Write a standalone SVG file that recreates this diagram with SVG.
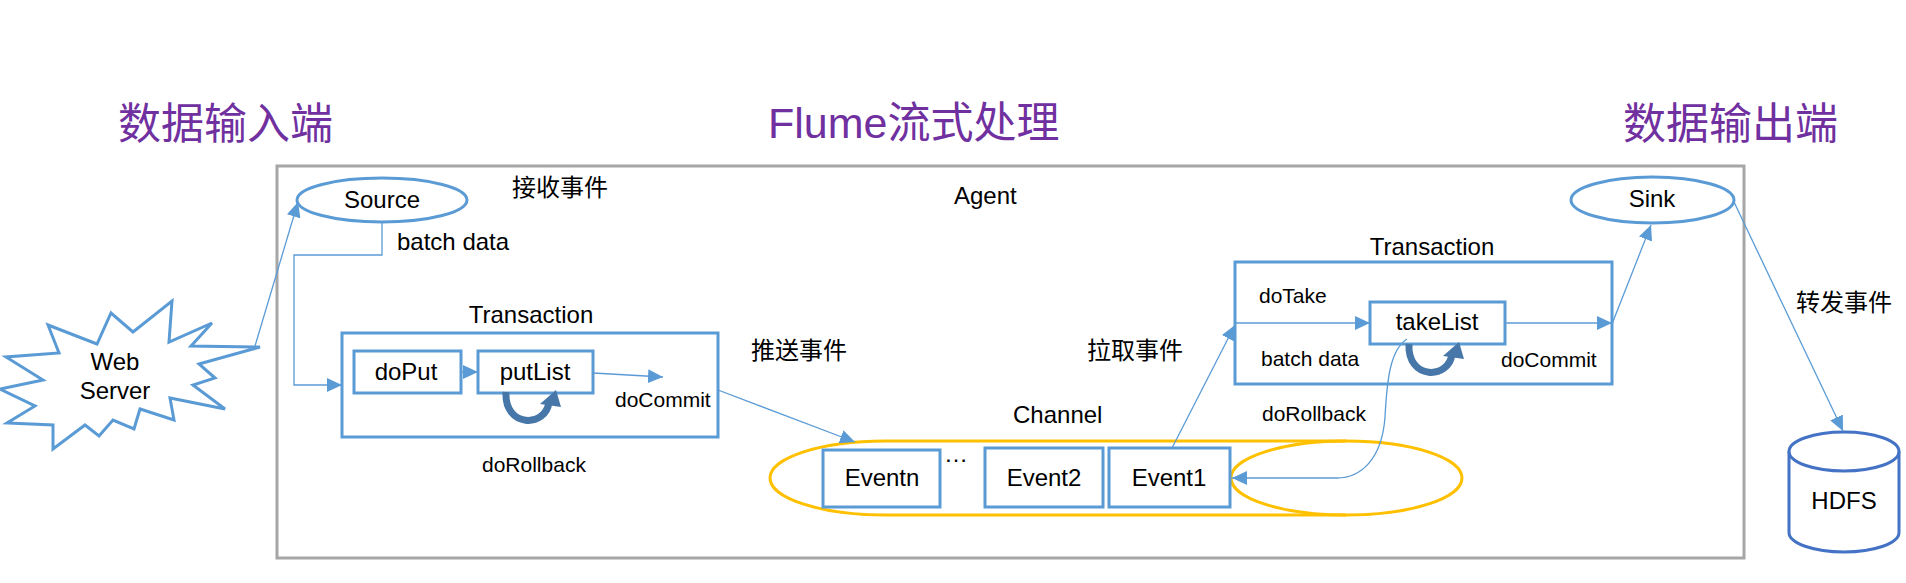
<svg xmlns="http://www.w3.org/2000/svg" width="1906" height="583" viewBox="0 0 1906 583">
<style>
.box{fill:#fff;stroke:#5b9bd5;stroke-width:3}
.conn{fill:none;stroke:#5b9bd5;stroke-width:1.3}
.can{fill:none;stroke:#ffc000;stroke-width:3}
.loop{fill:none;stroke:#4677a8;stroke-width:7}
.t{font-family:"Liberation Sans","Noto Sans CJK SC",sans-serif;font-size:24px;fill:#000}
.s{font-family:"Liberation Sans","Noto Sans CJK SC",sans-serif;font-size:21px;fill:#000}
.title{font-family:"Liberation Sans","Noto Sans CJK SC",sans-serif;font-size:43px;fill:#7030a0}
.m{text-anchor:middle}
</style>
<defs>
<marker id="arr" viewBox="0 0 15 14" refX="15" refY="7" markerWidth="15" markerHeight="14" markerUnits="userSpaceOnUse" orient="auto">
<path d="M0,0 L15,7 L0,14 Z" fill="#5b9bd5"/>
</marker>
<g id="loopArrow">
<path class="loop" d="M506,392 C504,428 546,428 549,402"/>
<polygon points="540,404 556,390 561,407" fill="#4677a8"/>
</g>
</defs>
<rect width="1906" height="583" fill="#fff"/>

<g id="titles">
<text class="title" x="118" y="139">数据输入端</text>
<text class="title" x="768" y="138">Flume流式处理</text>
<text class="title" x="1623" y="139">数据输出端</text>
</g>

<g id="agent">
<rect x="277" y="166" width="1467" height="392" fill="none" stroke="#a6a6a6" stroke-width="3"/>
<text class="t" x="954" y="204">Agent</text>
</g>

<g id="webserver">
<polygon class="box" points="172,301 169,342 212,323 191,346 260,347 199,364 215,378 193,385 225,409 170,398 174,420 140,409 134,429 113,420 99,436 85,425 53,449 53,425 7,423 35,406 0,389 43,380 6,357 59,353 48,325 97,344 111,313 133,332"/>
<text class="t m" x="115" y="370">Web</text>
<text class="t m" x="115" y="399">Server</text>
</g>

<g id="source">
<ellipse class="box" cx="382" cy="200" rx="85" ry="22"/>
<text class="t m" x="382" y="208">Source</text>
</g>

<g id="transaction-put">
<rect class="box" x="342" y="333" width="376" height="104"/>
<text class="t m" x="531" y="323">Transaction</text>
</g>
<g id="doPut">
<rect class="box" x="354" y="351" width="107" height="42"/>
<text class="t m" x="406" y="380">doPut</text>
</g>
<g id="putList">
<rect class="box" x="478" y="351" width="115" height="42"/>
<text class="t m" x="535" y="380">putList</text>
<use href="#loopArrow"/>
</g>

<g id="channel">
<path class="can" d="M1346,441 L885,441 A115,37 0 0 0 885,515 L1346,515"/>
<ellipse class="can" cx="1346.5" cy="478" rx="115.5" ry="37"/>
<text class="t" x="1013" y="423">Channel</text>
</g>
<g id="eventn">
<rect class="box" x="823" y="450" width="117" height="57"/>
<text class="t m" x="882" y="486">Eventn</text>
</g>
<text class="t" x="944" y="462">…</text>
<g id="event2">
<rect class="box" x="985" y="448" width="118" height="59"/>
<text class="t m" x="1044" y="486">Event2</text>
</g>
<g id="event1">
<rect class="box" x="1109" y="448" width="121" height="59"/>
<text class="t m" x="1169" y="486">Event1</text>
</g>

<g id="transaction-take">
<rect class="box" x="1235" y="262" width="377" height="122"/>
<text class="t m" x="1432" y="255">Transaction</text>
</g>
<g id="takeList">
<rect class="box" x="1370" y="302" width="135" height="42"/>
<text class="t m" x="1437" y="330">takeList</text>
<use href="#loopArrow" transform="translate(903,-48)"/>
</g>

<g id="sink">
<ellipse class="box" cx="1652.5" cy="200" rx="81.5" ry="23"/>
<text class="t m" x="1652" y="207">Sink</text>
</g>

<g id="hdfs">
<path d="M1789,451.5 A55,19.5 0 0 1 1899,451.5 V532.5 A55,19.5 0 0 1 1789,532.5 Z" fill="#fff" stroke="#4472c4" stroke-width="3"/>
<path d="M1789,451.5 A55,19.5 0 0 0 1899,451.5" fill="none" stroke="#4472c4" stroke-width="3"/>
<text class="t m" x="1844" y="509">HDFS</text>
</g>

<g id="connectors">
<path class="conn" d="M255,346 L298,202" marker-end="url(#arr)"/>
<path class="conn" d="M382,222 V255 H294 V385 H342" marker-end="url(#arr)"/>
<path class="conn" d="M461,372 H478" marker-end="url(#arr)"/>
<path class="conn" d="M593,373 L663,377" marker-end="url(#arr)"/>
<path class="conn" d="M718,390 L855,442" marker-end="url(#arr)"/>
<path class="conn" d="M1172,448 L1235,325" marker-end="url(#arr)"/>
<path class="conn" d="M1235,323 H1370" marker-end="url(#arr)"/>
<path class="conn" d="M1505,323 H1612" marker-end="url(#arr)"/>
<path class="conn" d="M1612,324 L1651,225" marker-end="url(#arr)"/>
<path class="conn" d="M1734,202 L1843,431" marker-end="url(#arr)"/>
<path class="conn" d="M1407,339 C1390,350 1387,380 1385,417 C1382,460 1360,478 1337,478 L1232,478" marker-end="url(#arr)"/>
</g>

<g id="labels">
<text class="t" x="512" y="196">接收事件</text>
<text class="t" x="397" y="250">batch data</text>
<text class="s" x="615" y="407">doCommit</text>
<text class="s" x="482" y="472">doRollback</text>
<text class="t" x="751" y="359">推送事件</text>
<text class="t" x="1087" y="359">拉取事件</text>
<text class="s" x="1259" y="303">doTake</text>
<text class="s" x="1261" y="366">batch data</text>
<text class="s" x="1501" y="367">doCommit</text>
<text class="s" x="1262" y="421">doRollback</text>
<text class="t" x="1796" y="311">转发事件</text>
</g>
</svg>
